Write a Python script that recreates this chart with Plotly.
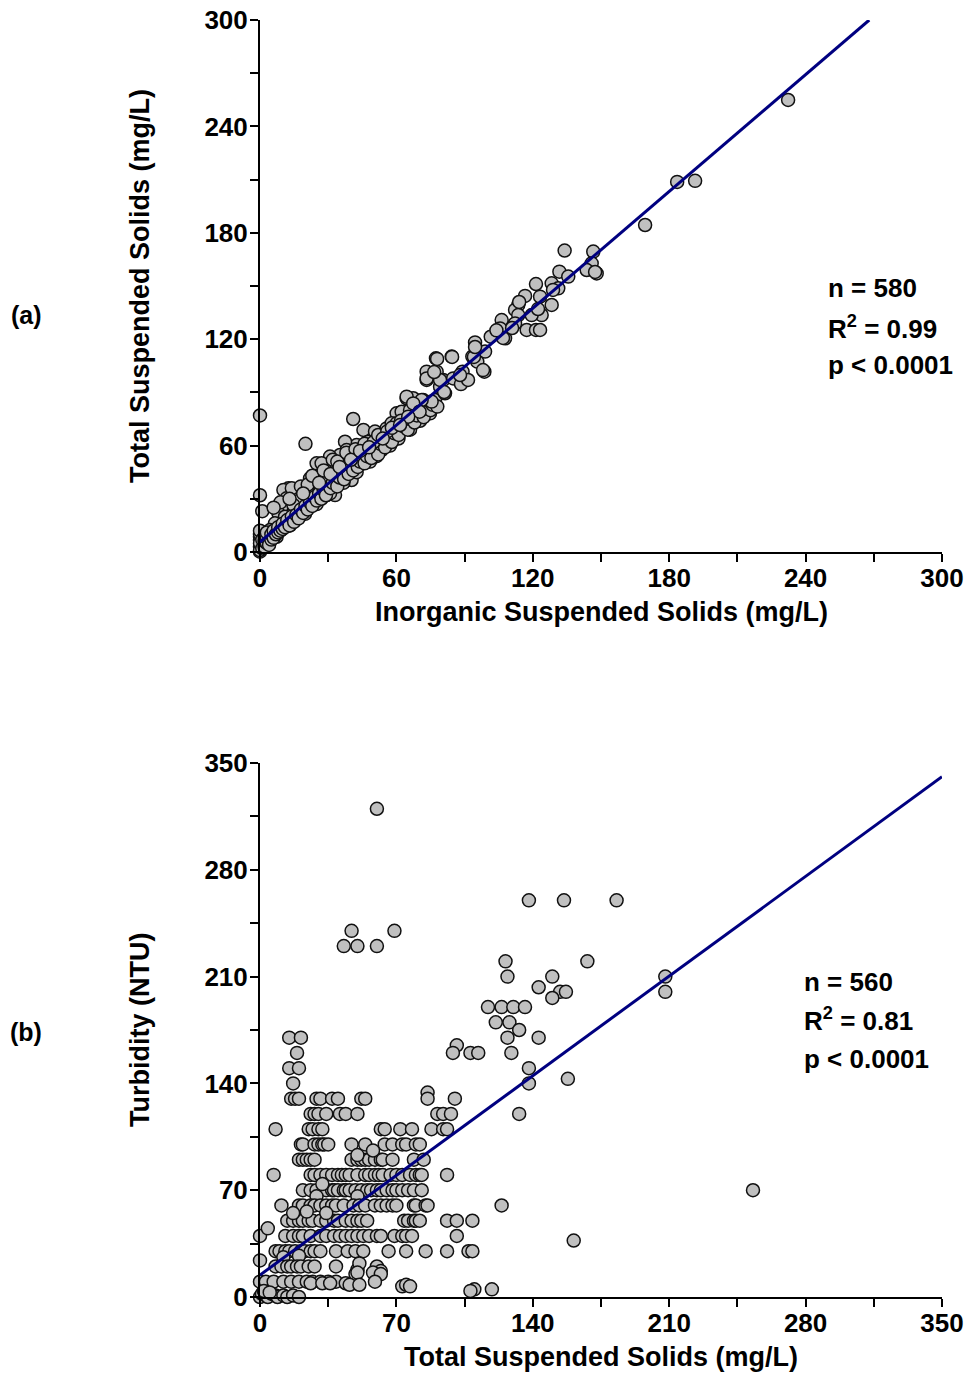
import plotly.graph_objects as go

# ---------------- Panel (a): TSS vs ISS ----------------
panel_a_points = [
    (0, 77), (0, 32), (1, 23), (20, 61), (41, 75),
    (64.5, 86.7), (67.4, 86.7), (71.8, 85.7), (60.1, 78.2), (62.3, 79.1), (68.9, 79.1), (71.1, 78.2),
    (45.5, 68.8), (50.6, 67.9), (55.7, 69.7), (57.9, 72.6), (60.1, 72.6), (62.3, 69.7), (58.7, 63.2),
    (54.3, 64.1), (47.7, 62.2), (42.5, 60.3), (37.4, 62.2), (38.1, 57.5), (44.7, 55.6), (49.1, 56.6),
    (53.5, 57.5), (35.2, 54.7), (30.8, 53.8), (24.9, 50), (27.1, 50), (33.7, 47.2), (39.6, 47.2),
    (40.3, 40.6), (22, 41.5), (24.9, 40.6), (26.4, 36.8), (12.5, 35.9), (16.9, 35), (10.3, 35),
    (21.3, 33.1), (29.3, 32.1), (33, 32.1), (11.7, 30.3), (17.6, 29.3), (9.5, 25.6), (14.7, 26.5),
    (8.1, 21.8), (11, 19.9), (15.4, 18), (6.6, 16.2), (9.5, 13.3), (4.4, 12.4), (1.5, 10.5), (0, 8.6),
    (0, 6.8), (0.7, 4.9), (0, 0.2), (0, 3), (4.4, 6.8), (7.3, 8.6), (13.2, 15), (19.8, 21.5), (24.9, 27),
    (30.8, 33), (36.7, 39), (42.5, 45), (48.4, 51), (51.3, 54), (57.2, 60), (60.9, 64), (66, 69),
    (70.4, 74), (74.8, 78.2), (77, 85.7), (79.2, 93.2), (73.3, 97), (80.6, 97),
    (0, 1), (0, 5), (0, 10), (0, 12), (1, 2), (1, 7), (2, 3), (2, 6), (2, 9), (3, 5), (3, 8), (3, 11),
    (4, 4), (5, 7), (5, 10), (6, 8), (6, 12), (7, 10), (8, 11), (8, 14), (9, 12), (10, 13), (10, 16),
    (11, 14), (12, 18), (13, 15), (14, 20), (15, 17), (16, 21), (17, 19), (18, 24), (19, 22), (20, 26),
    (21, 24), (22, 28), (23, 26), (24, 31), (25, 29), (26, 33), (27, 30), (28, 35), (29, 32), (31, 36),
    (32, 39), (34, 37), (35, 42), (36, 45), (37, 41), (39, 44), (40, 49), (41, 46), (43, 48), (44, 51),
    (46, 50), (47, 54), (49, 53), (50, 59), (52, 55), (53, 61), (55, 59), (56, 65), (58, 62), (59, 67),
    (61, 66), (63, 71), (65, 69), (66, 75), (68, 73), (69, 77), (72, 76), (73, 81), (75, 80), (76, 83),
    (78, 82),
    (14, 36), (18, 37), (21, 38), (23, 43), (28, 46), (32, 52), (34, 51), (38, 56), (42, 58), (46, 61),
    (50, 62), (52, 66), (56, 68), (9, 28), (6, 25), (13, 30), (19, 33), (26, 39), (31, 44), (35, 48),
    (40, 52), (44, 57), (48, 59), (54, 64), (58, 70), (62, 74), (66, 80),
    (146.6, 169.4), (145.9, 162.8), (148.1, 157.1), (143.7, 159), (131.7, 158.1), (135.6, 155.3),
    (128.3, 151.5), (121.4, 151.1), (131.2, 148.7), (123.2, 144), (116.6, 144.4), (128.3, 139.3),
    (113.6, 139.3), (112.2, 136.5), (123.9, 133.6), (119.5, 133.6), (113.6, 133.6), (106.3, 130.8),
    (112.2, 128.9), (105.6, 126.1), (107.8, 120.5), (117.3, 125.2), (121.4, 125.2), (101.5, 121.4),
    (94.6, 118.2), (99, 113), (93.4, 110.2), (95.6, 107.3), (84.3, 110.2), (77.4, 109.2), (98.7, 101.7),
    (73.3, 101.7), (77.7, 101.7), (89.1, 101.7), (73.3, 97.9), (79.2, 97), (85, 97.9), (88.4, 94.7),
    (81.4, 89.5), (75.5, 84.8), (71.1, 85.7), (64.5, 87.6), (67.4, 83.8), (70.2, 79.1), (65.2, 76.3),
    (61.6, 71.6),
    (232.3, 254.9), (183.5, 208.7), (191.4, 209.3), (169.4, 184.4), (147.4, 157.9), (128.9, 147.8),
    (122.3, 137), (123.2, 125.2), (110.9, 126.3), (106.9, 120.7), (98.1, 102.6), (91.5, 97), (134, 170),
    (81, 90.2), (88, 99.8), (76.6, 101.5), (94.1, 110), (94.6, 115.6), (84.5, 110), (77.9, 108.9),
    (104, 125), (114, 141),
]
iss_a = [p[0] for p in panel_a_points]
tss_a = [p[1] for p in panel_a_points]
fit_a_x = [0, 268]
fit_a_y = [5.6, 300]

# ---------------- Panel (b): Turbidity vs TSS ----------------
panel_b_points = [
    (15, 170), (21, 170), (19, 160), (15, 150), (20, 150), (17, 140),
    (16, 130), (18, 130), (20, 130), (29, 130), (31, 130), (37, 130), (40, 130), (52, 130), (54, 130),
    (26, 120), (28, 120), (30, 120), (34, 120), (41, 120), (44, 120), (50, 120),
    (8, 110), (25, 110), (27, 110), (30, 110), (32, 110), (62, 110), (64, 110), (72, 110), (78, 110),
    (88, 110), (94, 110), (96, 110),
    (21, 100), (22, 100), (28, 100), (30, 100), (32, 100), (33, 100), (35, 100), (47, 100), (54, 100),
    (64, 100), (68, 100), (73, 100), (75, 100), (80, 100), (82, 100),
    (20, 90), (22, 90), (24, 90), (26, 90), (28, 90), (47, 90), (50, 90), (52, 90), (54, 90), (56, 90),
    (59, 90), (62, 90), (63, 90), (68, 90), (79, 90), (84, 90), (50, 93), (58, 96),
    (7, 80), (26, 80), (28, 80), (31, 80), (34, 80), (37, 80), (40, 80), (42, 80), (44, 80), (46, 80),
    (50, 80), (54, 80), (56, 80), (59, 80), (61, 80), (63, 80), (67, 80), (70, 80), (73, 80), (77, 80),
    (80, 80), (82, 80), (83, 80), (96, 80),
    (22, 70), (26, 70), (29, 70), (34, 70), (37, 70), (38, 70), (40, 70), (43, 70), (44, 70), (46, 70),
    (49, 70), (52, 70), (55, 70), (57, 70), (60, 70), (62, 70), (65, 70), (68, 70), (70, 70), (73, 70),
    (76, 70), (79, 70), (83, 70), (32, 74), (50, 66), (29, 66),
    (11, 60), (20, 60), (22, 60), (26, 60), (28, 60), (31, 60), (34, 60), (37, 60), (39, 60), (43, 60),
    (48, 60), (51, 60), (54, 60), (59, 60), (62, 60), (65, 60), (68, 60), (70, 60), (79, 60), (80, 60),
    (85, 60), (86, 60), (124, 60),
    (14, 50), (17, 50), (20, 50), (22, 50), (25, 50), (27, 50), (31, 50), (34, 50), (38, 50), (40, 50),
    (44, 50), (47, 50), (50, 50), (52, 50), (55, 50), (74, 50), (76, 50), (79, 50), (80, 50), (82, 50),
    (96, 50), (101, 50), (109, 50), (17, 55), (34, 55), (24, 56),
    (0, 40), (4, 45), (13, 40), (17, 40), (20, 40), (22, 40), (26, 40), (31, 40), (34, 40), (38, 40),
    (41, 40), (44, 40), (47, 40), (50, 40), (53, 40), (56, 40), (60, 40), (62, 40), (69, 40), (73, 40),
    (75, 40), (78, 40), (101, 40), (161, 37),
    (0, 24), (8, 30), (10, 30), (13, 30), (15, 30), (18, 30), (21, 30), (23, 30), (26, 30), (28, 30),
    (31, 30), (39, 30), (45, 30), (49, 30), (53, 30), (66, 30), (75, 30), (85, 30), (96, 30), (107, 30),
    (109, 30), (12, 26), (20, 27),
    (8, 20), (11, 20), (14, 20), (16, 20), (19, 20), (21, 20), (25, 20), (28, 20), (39, 20), (50, 18),
    (51, 22), (60, 20), (62, 17), (49, 15), (50, 16), (58, 16), (62, 15),
    (0, 10), (3, 10), (7, 10), (12, 10), (16, 10), (20, 10), (24, 10), (27, 10), (31, 10), (35, 10),
    (39, 10), (26, 9), (32, 9), (36, 9), (44, 9), (46, 8), (51, 8), (59, 10), (73, 7), (75, 8), (77, 7),
    (0, 0), (1, 2), (3, 1), (4, 0), (6, 2), (8, 1), (9, 0), (12, 1), (14, 0), (17, 1), (20, 0), (2, 4),
    (5, 3), (110, 5), (119, 5), (108, 4),
    (60, 320), (47, 240), (69, 240), (43, 230), (50, 230), (60, 230),
    (101, 165), (99, 160), (108, 160), (112, 160), (129, 160), (86, 134), (86, 130), (100, 130),
    (91, 120), (94, 120), (98, 120), (133, 120),
    (138, 260), (156, 260), (183, 260), (126, 220), (168, 220), (127, 210), (150, 210), (143, 203),
    (154, 200), (157, 200), (150, 196), (117, 190), (124, 190), (130, 190), (136, 190), (121, 180),
    (128, 180), (133, 175), (127, 170), (143, 170), (138, 150), (138, 140), (158, 143),
    (208, 210), (208, 200), (253, 70),
]
tss_b = [p[0] for p in panel_b_points]
turb_b = [p[1] for p in panel_b_points]
fit_b_x = [0, 350]
fit_b_y = [14.4, 341]

ticks_a = [0, 60, 120, 180, 240, 300]
ticks_b = [0, 70, 140, 210, 280, 350]

W, H = 968, 1374
FONT = "Liberation Sans, Arial, sans-serif"

def px(x):
    return x / W

def py(y):
    return 1 - y / H

marker = dict(size=13, color="#c0c0c0", line=dict(color="#111111", width=1.5))

fig = go.Figure()
fig.add_trace(go.Scatter(x=iss_a, y=tss_a, mode="markers", marker=marker,
                         cliponaxis=False, xaxis="x", yaxis="y", showlegend=False))
fig.add_trace(go.Scatter(x=fit_a_x, y=fit_a_y, mode="lines", line=dict(color="#000080", width=3),
                         cliponaxis=False, xaxis="x", yaxis="y", showlegend=False))
fig.add_trace(go.Scatter(x=tss_b, y=turb_b, mode="markers", marker=marker,
                         cliponaxis=False, xaxis="x2", yaxis="y2", showlegend=False))
fig.add_trace(go.Scatter(x=fit_b_x, y=fit_b_y, mode="lines", line=dict(color="#000080", width=3),
                         cliponaxis=False, xaxis="x2", yaxis="y2", showlegend=False))

def axis(domain, rng, ticks, minor_dtick, anchor, standoff):
    return dict(
        domain=domain, range=rng, anchor=anchor, tickvals=ticks,
        showline=True, linecolor="black", linewidth=2,
        ticks="outside", ticklen=8, tickwidth=2, tickcolor="black",
        minor=dict(ticks="outside", ticklen=8, tickwidth=2, tickcolor="black", dtick=minor_dtick,
                   tick0=0, showgrid=False),
        showgrid=False, zeroline=False, automargin=False,
        ticklabelstandoff=standoff,
        tickfont=dict(family=FONT, size=26, color="black", weight="bold"),
    )

xd = [px(260), px(942)]
fig.update_layout(
    width=W, height=H, margin=dict(l=0, r=0, t=0, b=0),
    paper_bgcolor="white", plot_bgcolor="white",
    xaxis=axis(xd, [0, 300], ticks_a, 30, "y", -6),
    yaxis=axis([py(552), py(20)], [0, 300], ticks_a, 30, "x", -3),
    xaxis2=axis(xd, [0, 350], ticks_b, 35, "y2", -6),
    yaxis2=axis([py(1297), py(763)], [0, 350], ticks_b, 35, "x2", -3),
)

tf = dict(family=FONT, size=26, color="black", weight="bold")
anns = [
    dict(text="Inorganic Suspended Solids (mg/L)", x=px(601), y=py(612), size=27),
    dict(text="Total Suspended Solids (mg/L)", x=px(140), y=py(286), textangle=-90, size=27),
    dict(text="Total Suspended Solids (mg/L)", x=px(601), y=py(1357), size=27),
    dict(text="Turbidity (NTU)", x=px(140), y=py(1030), textangle=-90, size=27),
    dict(text="(a)", x=px(26), y=py(315), size=25),
    dict(text="(b)", x=px(26), y=py(1032), size=25),
]
for a in anns:
    size = a.pop("size", 26)
    fig.add_annotation(xref="paper", yref="paper", showarrow=False, xanchor="center", yanchor="middle",
                       font=dict(tf, size=size), **a)

stats = [
    ("n = 580", 826, 288), ("R<sup>2</sup> = 0.99", 826, 327), ("p < 0.0001", 826, 365),
    ("n = 560", 802, 982), ("R<sup>2</sup> = 0.81", 802, 1020), ("p < 0.0001", 802, 1059),
]
for t, x, y in stats:
    fig.add_annotation(xref="paper", yref="paper", showarrow=False, xanchor="left", yanchor="middle",
                       x=px(x), y=py(y), text=t, font=tf)

fig.write_html("out.html")
